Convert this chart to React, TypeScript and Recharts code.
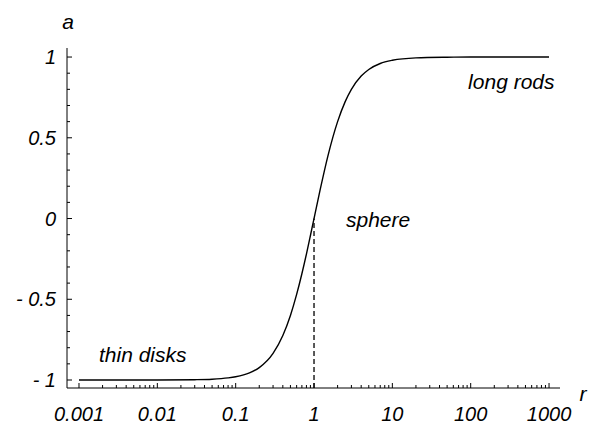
import React from "react";
import { LineChart, Line, XAxis, YAxis, ReferenceLine, ReferenceDot, Label } from "recharts";

// aspect ratio r vs anisotropy a
const rValues = [0.001, 0.003, 0.01, 0.03, 0.05, 0.08, 0.1, 0.15, 0.2, 0.3, 0.4, 0.5, 0.6, 0.7, 0.8, 0.9, 1, 1.2, 1.5, 2, 2.5, 3, 4, 5, 7, 10, 20, 50, 100, 300, 1000];
const aValues = [-1, -1, -1, -0.998, -0.995, -0.987, -0.98, -0.956, -0.923, -0.835, -0.724, -0.6, -0.47, -0.342, -0.22, -0.105, 0, 0.18, 0.385, 0.6, 0.724, 0.8, 0.882, 0.923, 0.96, 0.98, 0.995, 0.999, 1, 1, 1];

const xMajor = [0.001, 0.01, 0.1, 1, 10, 100, 1000];
const xMajorLabels = ["0.001", "0.01", "0.1", "1", "10", "100", "1000"];
const yMajor = [-1, -0.5, 0, 0.5, 1];
const yMajorLabels = ["- 1", "- 0.5", "0", "0.5", "1"];
const yMinor = [-0.9, -0.8, -0.7, -0.6, -0.4, -0.3, -0.2, -0.1, 0.1, 0.2, 0.3, 0.4, 0.6, 0.7, 0.8, 0.9];

const notes = [
  { r: 0.0018, a: -0.89, text: "thin disks" },
  { r: 2.56, a: -0.05, text: "sphere" },
  { r: 92.7, a: 0.805, text: "long rods" },
];

const data = rValues.map((r, i) => ({ r, a: aValues[i] }));

// minor ticks 2..9 in every decade
const xMinor: number[] = [];
xMajor.slice(0, -1).forEach((d) => {
  for (let k = 2; k <= 9; k++) xMinor.push(+(d * k).toPrecision(3));
});

const font = { fontFamily: "'Liberation Sans', Arial, sans-serif", fontStyle: "italic" as const };

function XTick({ x, y, payload }: any) {
  const idx = xMajor.indexOf(payload.value);
  const major = idx >= 0;
  return (
    <g>
      <line x1={x} x2={x} y1={y} y2={y - (major ? 5 : 3)} stroke="#000" strokeWidth={1} />
      {major && (
        <text x={x} y={y + 33} textAnchor="middle" fontSize={20} fill="#000" {...font}>
          {xMajorLabels[idx]}
        </text>
      )}
    </g>
  );
}

function YTick({ x, y, payload }: any) {
  const idx = yMajor.indexOf(payload.value);
  const major = idx >= 0;
  return (
    <g>
      <line x1={x} x2={x + (major ? 5 : 3)} y1={y} y2={y} stroke="#000" strokeWidth={1} />
      {major && (
        <text x={x - 11} y={y + 7} textAnchor="end" fontSize={20} fill="#000" {...font}>
          {yMajorLabels[idx]}
        </text>
      )}
    </g>
  );
}

export default function App() {
  return (
    <div style={{ position: "absolute", left: 0, top: 0, background: "#fff" }}>
      <LineChart width={589} height={425} data={data} margin={{ top: 48, right: 29, bottom: 7, left: 7 }}>
        <XAxis
          dataKey="r"
          type="number"
          scale="log"
          domain={[0.000703, 1380]}
          allowDataOverflow
          ticks={[...xMajor, ...xMinor]}
          interval={0}
          tick={<XTick />}
          tickLine={false}
          tickSize={0}
          tickMargin={0}
          height={30}
          axisLine={{ stroke: "#000", strokeWidth: 1 }}
        >
          <Label
            content={({ viewBox }: any) => (
              <text x={viewBox.x + viewBox.width + 23} y={viewBox.y + 13} textAnchor="middle" fontSize={21} fill="#000" {...font}>
                r
              </text>
            )}
          />
        </XAxis>
        <YAxis
          type="number"
          domain={[-1.0495, 1.056]}
          allowDataOverflow
          ticks={[...yMajor, ...yMinor]}
          interval={0}
          tick={<YTick />}
          tickLine={false}
          tickSize={0}
          tickMargin={0}
          width={60}
          axisLine={{ stroke: "#000", strokeWidth: 1 }}
        >
          <Label
            content={({ viewBox }: any) => (
              <text x={viewBox.x + viewBox.width + 1} y={viewBox.y - 19} textAnchor="middle" fontSize={21} fill="#000" {...font}>
                a
              </text>
            )}
          />
        </YAxis>
        <ReferenceLine
          segment={[{ x: 1, y: -1.0495 }, { x: 1, y: 0 }]}
          stroke="#000"
          strokeWidth={1.3}
          strokeDasharray="5 3"
        />
        <Line
          type="monotone"
          dataKey="a"
          stroke="#000"
          strokeWidth={1.4}
          dot={false}
          isAnimationActive={false}
        />
        {notes.map((n) => (
          <ReferenceDot
            key={n.text}
            x={n.r}
            y={n.a}
            r={0}
            fill="none"
            stroke="none"
            label={{
              content: ({ viewBox }: any) => (
                <text x={viewBox.x} y={viewBox.y} fontSize={21} fill="#000" {...font}>
                  {n.text}
                </text>
              ),
            }}
          />
        ))}
      </LineChart>
    </div>
  );
}
